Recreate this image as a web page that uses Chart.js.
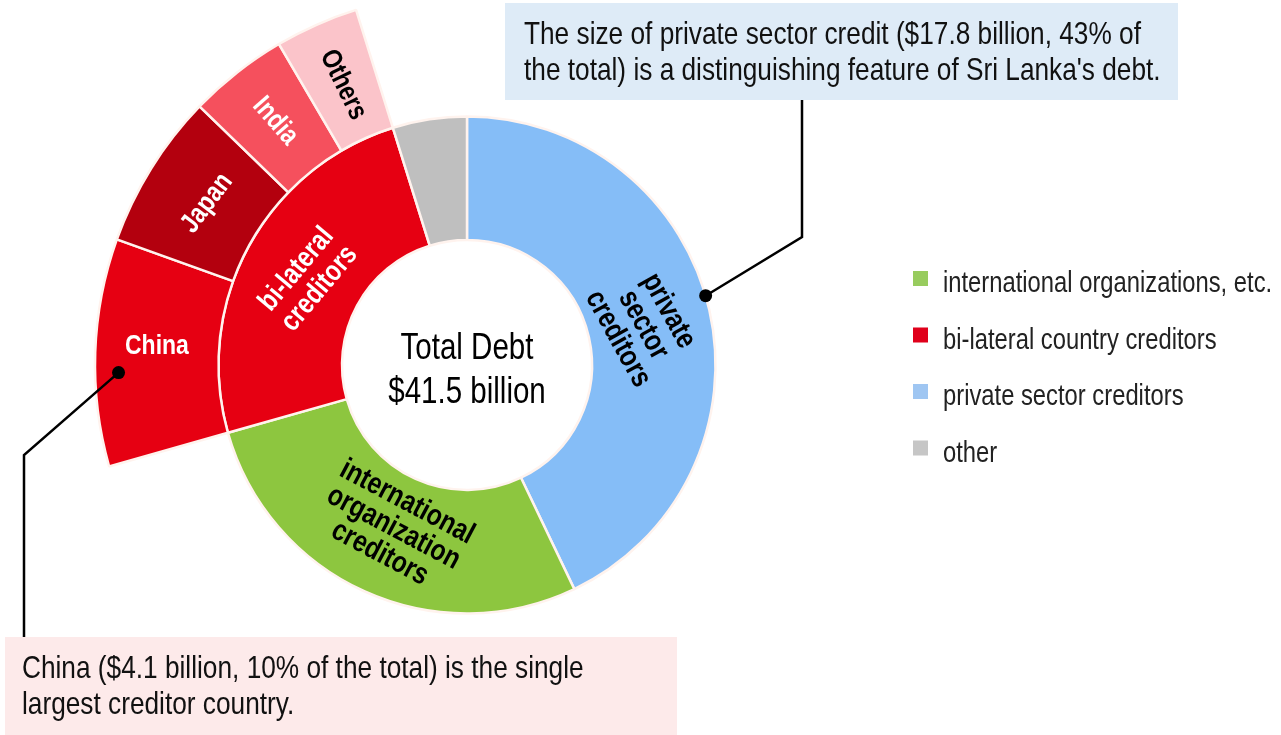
<!DOCTYPE html>
<html>
<head>
<meta charset="utf-8">
<title>Sri Lanka debt by creditor</title>
<script src="https://cdn.jsdelivr.net/npm/chart.js@4.4.1/dist/chart.umd.min.js"></script>
<style>
  html, body { margin: 0; padding: 0; background: #fff; }
  #chart { display: block; }
</style>
</head>
<body>
<canvas id="chart" width="1281" height="735"></canvas>
<script>
// Total debt by creditor group, $ billion (total 41.5)
const groupLabels = ["private sector creditors", "international organization creditors", "bi-lateral creditors", "other"];
const groupValues = [17.8, 11.5, 10.2, 2.0];
const groupColors = ["#85bdf7", "#8dc63f", "#e60012", "#bfbfbf"];

// bi-lateral creditors split by country, $ billion
const countryLabels = ["China", "Japan", "India", "Others"];
const countryValues = [4.1, 2.8, 1.8, 1.5];
const countryColors = ["#e60012", "#b3000e", "#f5505d", "#fbc4ca"];

const legendLabels = ["international organizations, etc.", "bi-lateral country creditors", "private sector creditors", "other"];
const legendColors = ["#98cc5e", "#e0001b", "#9fc6f2", "#c6c6c6"];

const centerText = ["Total Debt", "$41.5 billion"];
const noteTop = ["The size of private sector credit ($17.8 billion, 43% of", "the total) is a distinguishing feature of Sri Lanka's debt."];
const noteBottom = ["China ($4.1 billion, 10% of the total) is the single", "largest creditor country."];

// no narrow face installed, so squeeze Liberation Sans sideways instead
const FONT = "'Liberation Sans', Arial, sans-serif";
const SQUEEZE = 0.82;
const NONE = "rgba(0,0,0,0)";
const EDGE = "#fff3ee";

// outer ring only shows the country split, the rest is left empty
const outerData = [groupValues[0], groupValues[1], ...countryValues, groupValues[3]];
const outerColors = [NONE, NONE, ...countryColors, NONE];
const outerBorders = [0, 0, 2.5, 2.5, 2.5, 2.5, 0];
const outerLabels = [groupLabels[0], groupLabels[1], ...countryLabels, groupLabels[3]];

// text placed on the segments: dataset, index, lines, rotation (deg)
const segLabels = [
  { ds: 1, i: 0, lines: ["private", "sector", "creditors"], rot: 61, color: "#000", size: 30, lh: 29, dr: -6, dy: 0 },
  { ds: 1, i: 1, lines: ["international", "organization", "creditors"], rot: 28, color: "#000", size: 30, lh: 29, dr: -8, dy: 0 },
  { ds: 1, i: 2, lines: ["bi-lateral", "creditors"], rot: -50, color: "#fff", size: 29, lh: 30, dr: -6, dy: 0 },
  { ds: 0, i: 2, lines: ["China"], rot: 0, color: "#fff", size: 28, lh: 28, dr: 0, dy: -8 },
  { ds: 0, i: 3, lines: ["Japan"], rot: -53, color: "#fff", size: 28, lh: 28, dr: -4, dy: 0 },
  { ds: 0, i: 4, lines: ["India"], rot: 49, color: "#fff", size: 28, lh: 28, dr: 0, dy: 0 },
  { ds: 0, i: 5, lines: ["Others"], rot: 64, color: "#000", size: 28, lh: 28, dr: -4, dy: 0 }
];

// callouts: anchored on an arc (t = along the arc, rf = across the ring)
const callouts = [
  { ds: 1, i: 0, t: 0.478, rf: 1.0, path: [[802, 237], [802, 100]], box: [505, 3, 673, 97], fill: "#deebf7", text: noteTop, tx: 524, ty: 44 },
  { ds: 0, i: 2, t: 0.41, rf: 0.81, path: [[24, 455], [24, 637]], box: [5, 637, 672, 98], fill: "#fdeaea", text: noteBottom, tx: 22, ty: 678 }
];

function arcPoint(arc, t, rf) {
  const a = arc.startAngle + (arc.endAngle - arc.startAngle) * t;
  const r = arc.innerRadius + (arc.outerRadius - arc.innerRadius) * rf;
  return [arc.x + r * Math.cos(a), arc.y + r * Math.sin(a)];
}

function narrowText(ctx, text, x, y) {
  ctx.save();
  ctx.translate(x, y);
  ctx.scale(SQUEEZE, 1);
  ctx.fillText(text, 0, 0);
  ctx.restore();
}

const decorPlugin = {
  id: "decor",
  afterDatasetsDraw(chart) {
    const ctx = chart.ctx;
    // segment labels
    segLabels.forEach(s => {
      const arc = chart.getDatasetMeta(s.ds).data[s.i];
      const a = (arc.startAngle + arc.endAngle) / 2;
      const r = (arc.innerRadius + arc.outerRadius) / 2 + s.dr;
      ctx.save();
      ctx.translate(arc.x + r * Math.cos(a), arc.y + r * Math.sin(a) + s.dy);
      ctx.rotate(s.rot * Math.PI / 180);
      ctx.font = "bold " + s.size + "px " + FONT;
      ctx.fillStyle = s.color;
      ctx.textAlign = "center";
      ctx.textBaseline = "middle";
      const off = (s.lines.length - 1) * s.lh / 2;
      s.lines.forEach((line, k) => narrowText(ctx, line, 0, k * s.lh - off));
      ctx.restore();
    });

    // centre text
    const first = chart.getDatasetMeta(1).data[0];
    ctx.save();
    ctx.font = "36px " + FONT;
    ctx.fillStyle = "#000";
    ctx.textAlign = "center";
    ctx.textBaseline = "alphabetic";
    narrowText(ctx, centerText[0], first.x, first.y - 6);
    narrowText(ctx, centerText[1], first.x, first.y + 38);
    ctx.restore();

    // callout boxes, leader lines and dots
    callouts.forEach(c => {
      const arc = chart.getDatasetMeta(c.ds).data[c.i];
      const p = arcPoint(arc, c.t, c.rf);
      ctx.save();
      ctx.fillStyle = c.fill;
      ctx.fillRect(c.box[0], c.box[1], c.box[2], c.box[3]);
      ctx.strokeStyle = "#000";
      ctx.lineWidth = 2.5;
      ctx.beginPath();
      ctx.moveTo(p[0], p[1]);
      c.path.forEach(q => ctx.lineTo(q[0], q[1]));
      ctx.stroke();
      ctx.beginPath();
      ctx.arc(p[0], p[1], 6.5, 0, Math.PI * 2);
      ctx.fillStyle = "#000";
      ctx.fill();
      ctx.font = "32px " + FONT;
      ctx.fillStyle = "#111";
      ctx.textAlign = "left";
      ctx.textBaseline = "alphabetic";
      c.text.forEach((line, k) => narrowText(ctx, line, c.tx, c.ty + k * 36));
      ctx.restore();
    });

    // legend
    ctx.save();
    ctx.font = "29px " + FONT;
    ctx.textAlign = "left";
    ctx.textBaseline = "alphabetic";
    legendLabels.forEach((lab, k) => {
      const base = 292 + k * 56.5;
      ctx.fillStyle = legendColors[k];
      ctx.fillRect(913, base - 21, 15, 15);
      ctx.fillStyle = "#222";
      narrowText(ctx, lab, 943, base);
    });
    ctx.restore();
  }
};

new Chart(document.getElementById("chart"), {
  type: "doughnut",
  data: {
    labels: outerLabels,
    datasets: [
      {
        label: "by country",
        data: outerData,
        backgroundColor: outerColors,
        borderColor: EDGE,
        borderWidth: outerBorders,
        weight: 1
      },
      {
        label: "by creditor group",
        data: groupValues,
        backgroundColor: groupColors,
        borderColor: EDGE,
        borderWidth: 2.5,
        weight: 1
      }
    ]
  },
  options: {
    responsive: false,
    animation: false,
    radius: 372,
    cutout: "33.6%",
    layout: { padding: { left: 0, right: 347, top: 0, bottom: 5 } },
    plugins: {
      legend: { display: false },
      tooltip: { enabled: false }
    }
  },
  plugins: [decorPlugin]
});
</script>
</body>
</html>
